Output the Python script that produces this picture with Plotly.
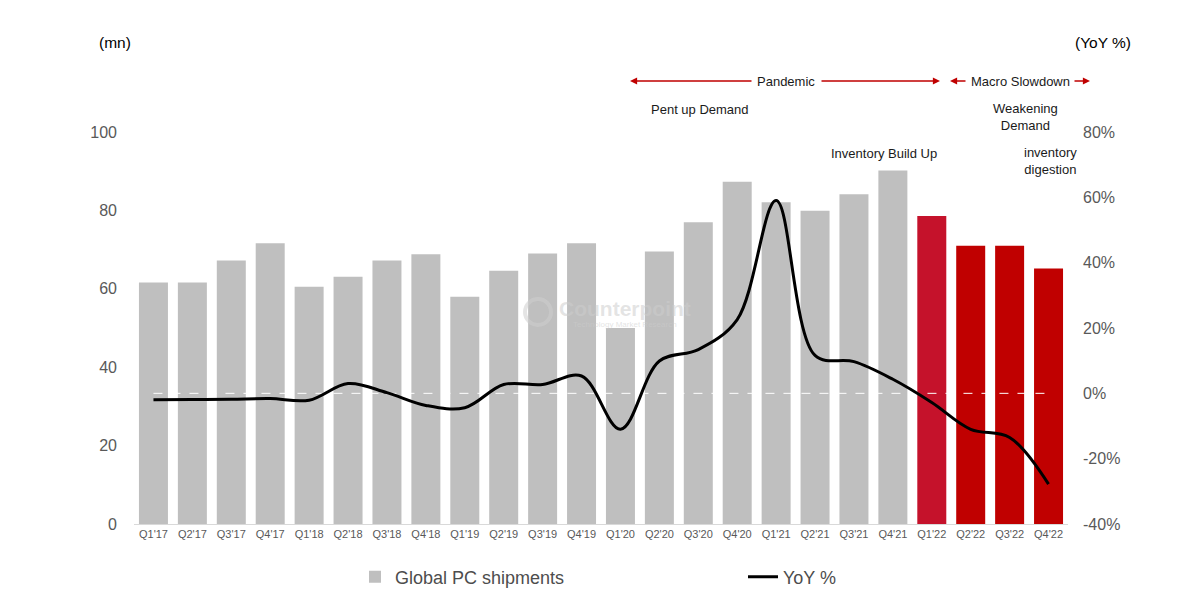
import plotly.graph_objects as go

categories = ["Q1'17", "Q2'17", "Q3'17", "Q4'17", "Q1'18", "Q2'18", "Q3'18", "Q4'18",
              "Q1'19", "Q2'19", "Q3'19", "Q4'19", "Q1'20", "Q2'20", "Q3'20", "Q4'20",
              "Q1'21", "Q2'21", "Q3'21", "Q4'21", "Q1'22", "Q2'22", "Q3'22", "Q4'22"]
shipments = [61.6, 61.6, 67.2, 71.6, 60.5, 63.1, 67.2, 68.8,
             58.0, 64.6, 69.0, 71.6, 50.0, 69.5, 77.0, 87.3,
             82.1, 79.9, 84.1, 90.2, 78.6, 71.0, 71.0, 65.2]
yoy = [-2.0, -1.9, -1.8, -1.6, -2.1, 3.0, 0.2, -3.7,
       -4.4, 2.7, 2.7, 5.3, -11.0, 9.9, 13.4, 22.6,
       59.0, 11.6, 9.7, 4.3, -2.8, -11.0, -13.5, -27.8]
bar_colors = ["#BFBFBF"] * 20 + ["#C5122B", "#C00000", "#C00000", "#C00000"]
left_ticks = [0, 20, 40, 60, 80, 100]
right_ticks = [-40, -20, 0, 20, 40, 60, 80]
right_labels = ["-40%", "-20%", "0%", "20%", "40%", "60%", "80%"]

FONT = "Arial, 'Liberation Sans', sans-serif"
L, R, T, B = 134, 132, 132, 76
PW, PH = 1200 - L - R, 600 - T - B


def px(x):
    return (x - L) / PW


def py(y):
    return (600 - B - y) / PH


fig = go.Figure()
fig.add_trace(go.Bar(x=categories, y=shipments, name="Global PC shipments",
                     marker=dict(color=bar_colors, line=dict(width=0)),
                     yaxis="y"))
fig.add_trace(go.Scatter(x=categories, y=[0] * len(categories), mode="lines",
                         line=dict(color="white", width=1, dash="dash"),
                         yaxis="y2", showlegend=False, hoverinfo="skip"))
fig.add_trace(go.Scatter(x=categories, y=yoy, name="YoY %", mode="lines",
                         line=dict(color="black", width=3, shape="spline", smoothing=1.0),
                         yaxis="y2"))

annotations = []
txt_color = "#1a1a1a"


def text(t, x, y, size=13, color=txt_color, **kw):
    annotations.append(dict(text=t, x=px(x), y=py(y), xref="paper", yref="paper",
                            showarrow=False, font=dict(family=FONT, size=size, color=color),
                            xanchor="center", yanchor="middle", **kw))


def arrow(tip, tail, y):
    annotations.append(dict(text="", x=px(tip), y=py(y), xref="paper", yref="paper",
                            showarrow=True, ax=tail - tip, ay=0, arrowhead=2,
                            arrowsize=1.1, arrowwidth=1.3, arrowcolor="#C00000"))


text("(mn)", 115, 42, size=15.5, color="#000000")
text("(YoY %)", 1103, 42, size=15.5, color="#000000")
text("Pandemic", 786, 81)
text("Macro Slowdown", 1020, 81)
text("Pent up Demand", 700, 109)
text("Weakening<br>Demand", 1025, 117)
text("inventory<br>digestion", 1050, 161)
text("Inventory Build Up", 884, 153)
arrow(630, 753, 81)
arrow(940, 820, 81)
arrow(950, 967, 81)
arrow(1090, 1073, 81)
# watermark
text("<b>Counterpoint</b>", 625, 308, size=21, color="rgba(205,205,205,0.55)")
text("Technology Market Research", 625, 324, size=8, color="rgba(205,205,205,0.55)")

fig.update_layout(
    width=1200, height=600,
    margin=dict(l=L, r=R, t=T, b=B, pad=0, autoexpand=False),
    paper_bgcolor="white", plot_bgcolor="white",
    bargap=0.255,
    font=dict(family=FONT, color="#595959"),
    xaxis=dict(type="category", showgrid=False, zeroline=False, showline=True,
               linecolor="#D9D9D9", linewidth=1, ticks="", automargin=False,
               tickfont=dict(size=11, color="#595959")),
    yaxis=dict(range=[0, 100], tickvals=left_ticks, showgrid=False, zeroline=False,
               showline=False, ticks="", ticklabelstandoff=16, automargin=False,
               tickfont=dict(size=16, color="#595959")),
    yaxis2=dict(range=[-40, 80], tickvals=right_ticks, ticktext=right_labels,
                overlaying="y", side="right", showgrid=False, zeroline=False,
                showline=False, ticks="", ticklabelstandoff=14, automargin=False,
                tickfont=dict(size=16, color="#595959")),
    legend=dict(orientation="h", x=px(355), y=py(577), xanchor="left", yanchor="middle",
                entrywidth=343, entrywidthmode="pixels", traceorder="normal",
                font=dict(family=FONT, size=18, color="#4D4D4D"),
                bgcolor="rgba(0,0,0,0)"),
    annotations=annotations,
    shapes=[dict(type="circle", xref="paper", yref="paper",
                 x0=px(525), x1=px(551), y0=py(325), y1=py(299),
                 line=dict(color="rgba(205,205,205,0.55)", width=4))],
    showlegend=True,
)

fig.write_html("out.html", config={"displayModeBar": False})
